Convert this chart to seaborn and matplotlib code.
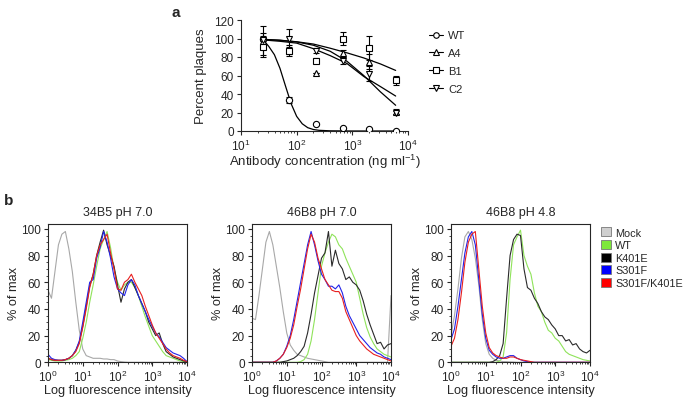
import numpy as np
import pandas as pd
import matplotlib
matplotlib.use("Agg")
import matplotlib.pyplot as plt
from matplotlib.lines import Line2D
from matplotlib.patches import Patch
from matplotlib.ticker import LogLocator, MultipleLocator, NullFormatter
import seaborn as sns

# ---- panel a: plaque reduction ----
conc = [24.7, 74, 222, 667, 2000, 6000]
strains = ["WT", "A4", "B1", "C2"]
markers = {"WT": "o", "A4": "^", "B1": "s", "C2": "v"}
plaques = {
    "WT": [100, 33.5, 7.5, 3.5, 2.5, 0.5],
    "A4": [97, 88, 63, 84, 75, 21],
    "B1": [91, 86, 76, 100, 90, 55],
    "C2": [98, 100, 87, 76, 62, 20],
}
plaque_err = {
    "WT": [3, 3, 0, 0, 0, 0],
    "A4": [17, 5, 0, 4, 8, 3],
    "B1": [9, 5, 3, 7, 13, 5],
    "C2": [8, 10, 3, 4, 8, 2],
}
# fitted curves
fit_conc_wt = [24.7, 31.6, 39.8, 50.1, 63.1, 79.4, 100, 126, 158, 200, 251, 398, 1000, 6000]
fit_wt = [99, 91.4, 82.5, 67.8, 48.5, 29.6, 15.8, 7.8, 3.6, 1.6, 0.75, 0.2, 0, 0]
fit_conc = [24.7, 50, 100, 200, 400, 800, 1600, 3200, 6000]
fit_curves = {
    "A4": [98.5, 97, 95, 89, 81.5, 73, 59, 48, 37.8],
    "B1": [99, 98, 96.5, 94, 89.5, 84.5, 79, 72.5, 65.5],
    "C2": [99.1, 98.2, 96.3, 92.7, 86.2, 75.4, 60, 42.3, 27.8],
}

# ---- panel b: flow cytometry histograms (% of max per log-channel) ----
samples = ["Mock", "WT", "K401E", "S301F", "S301F/K401E"]
colors = ["#a8a8a8", "#8fe35a", "#2a2a2a", "#2323e8", "#e82020"]
legend_colors = ["#cfcfcf", "#7ee83a", "#000000", "#0000ff", "#ff0000"]
titles = ["34B5 pH 7.0", "46B8 pH 7.0", "46B8 pH 4.8"]
log_channel = np.round(np.arange(0, 4.05, 0.1), 1)

hist_34b5_70 = {
    "Mock": [54, 48, 68, 88, 96, 98, 85, 68, 45, 24, 10, 5, 4, 3, 3, 3, 2.5, 2.5, 2, 2, 1,
             0.5, 0.2, 0, 0, 0, 0, 0, 0, 0, 0, 0, 0, 0, 0, 0, 0, 0, 0, 0, 0],
    "WT": [2, 1.5, 1, 1, 1, 1.5, 2, 3, 5, 8, 18, 30, 45, 58, 72, 85, 92, 98, 86, 70, 60,
           54, 58, 60, 60, 56, 50, 42, 34, 27, 20, 16, 12, 8, 5, 4, 3, 2, 1, 0.5, 0],
    "K401E": [3, 2, 1.5, 1.5, 1.5, 2, 3, 5, 9, 15, 27, 42, 57, 66, 80, 90, 99, 88, 80, 72, 58,
              45, 55, 60, 62, 56, 50, 44, 38, 30, 25, 20, 22, 14, 8, 6, 4, 3, 2, 1, 0.5],
    "S301F": [6, 3, 2, 1.5, 1.5, 2, 3, 5, 9, 16, 30, 45, 60, 62, 78, 86, 98, 90, 78, 64, 55,
              52, 50, 58, 62, 58, 50, 44, 38, 32, 27, 22, 19, 15, 11, 9, 7, 6, 5, 3, 0.5],
    "S301F/K401E": [3, 2, 1.5, 1.5, 1.5, 2, 3, 5, 8, 14, 26, 40, 56, 66, 80, 88, 92, 96, 82, 70, 55,
                    54, 60, 62, 66, 60, 55, 50, 42, 35, 28, 22, 18, 14, 10, 7, 5, 4, 3, 1.5, 0.5],
}
hist_46b8_70 = {
    "Mock": [33, 32, 50, 70, 90, 98, 88, 72, 56, 38, 22, 13, 9, 6, 5, 4, 3, 2.5, 2, 1.5, 1,
             0.5, 0, 0, 0, 0, 0, 0, 0, 0, 0, 0, 0, 0, 0, 0, 0, 0, 0, 0, 50],
    "WT": [0, 0, 0, 0, 0, 0, 0, 0, 0, 0, 0, 0, 0, 0, 0.5, 2, 6, 16, 32, 52, 72,
           82, 90, 96, 94, 88, 85, 78, 72, 66, 60, 48, 36, 26, 19, 14, 10, 8, 6, 5, 4],
    "K401E": [0, 0, 0, 0, 0, 0, 0, 0, 0, 0.5, 1, 2, 3, 5, 8, 12, 22, 36, 52, 65, 78,
              82, 98, 72, 84, 74, 70, 62, 64, 60, 58, 54, 46, 36, 28, 21, 14, 15, 10, 13, 14],
    "S301F": [0, 0, 0, 0, 0, 0, 0, 1, 3, 6, 12, 20, 32, 46, 60, 74, 88, 98, 88, 76, 66,
              62, 57, 57, 55, 58, 52, 42, 35, 30, 25, 20, 17, 14, 11, 9, 7, 6, 4, 3, 2],
    "S301F/K401E": [0, 0, 0, 0, 0, 0, 0, 1, 3, 6, 11, 18, 28, 42, 55, 70, 85, 96, 90, 78, 70,
                    62, 58, 54, 53, 53, 48, 38, 32, 26, 20, 16, 13, 10, 8, 6, 5, 4, 3, 2, 1],
}
hist_46b8_48 = {
    "Mock": [20, 35, 55, 78, 94, 98, 92, 78, 58, 32, 14, 6, 3, 1.5, 1, 0.5, 0.5, 0.3, 0.2, 0, 0,
             0, 0, 0, 0, 0, 0, 0, 0, 0, 0, 0, 0, 0, 0, 0, 0, 0, 0, 0, 0],
    "WT": [0, 0, 0, 0, 0, 0, 0, 0, 0, 0, 0, 0, 0, 0, 1, 4, 22, 62, 88, 94, 99,
           80, 72, 66, 52, 42, 38, 30, 24, 22, 18, 16, 12, 8, 6, 5, 4, 3, 2, 1.5, 1],
    "K401E": [0, 0, 0, 0, 0, 0, 0, 0, 0, 0, 0, 0, 0.5, 2, 5, 14, 48, 80, 92, 96, 95,
              70, 56, 54, 48, 44, 38, 34, 32, 28, 25, 20, 20, 16, 17, 13, 14, 10, 8, 7, 9],
    "S301F": [17, 25, 42, 62, 82, 94, 98, 88, 62, 36, 18, 9, 6, 4, 3, 3, 4, 5, 5, 3, 2,
              1, 0.5, 0, 0, 0, 0, 0, 0, 0, 0, 0, 0, 0, 0, 0, 0, 0, 0, 0, 0],
    "S301F/K401E": [12, 18, 32, 52, 75, 90, 96, 98, 70, 42, 22, 11, 7, 5, 4, 3, 3, 4, 4, 3, 2,
                    1.5, 1, 0.5, 0, 0, 0, 0, 0, 0, 0, 0, 0, 0, 0, 0, 0, 0, 0, 0, 0],
}
histograms = [hist_34b5_70, hist_46b8_70, hist_46b8_48]

sns.set_style("ticks")
plt.rcParams["font.family"] = ["Liberation Sans", "DejaVu Sans"]
plt.rcParams["mathtext.fontset"] = "custom"
plt.rcParams["mathtext.rm"] = "Liberation Sans"
plt.rcParams["mathtext.it"] = "Liberation Sans:italic"
plt.rcParams["axes.linewidth"] = 0.8
plt.rcParams["xtick.major.width"] = 0.8
plt.rcParams["ytick.major.width"] = 0.8
plt.rcParams["xtick.major.size"] = 3
plt.rcParams["ytick.major.size"] = 3
plt.rcParams["xtick.minor.size"] = 1.5
plt.rcParams["ytick.minor.size"] = 1.5
plt.rcParams["xtick.labelsize"] = 8.5
plt.rcParams["ytick.labelsize"] = 8.5
plt.rcParams["xtick.major.pad"] = 2
plt.rcParams["ytick.major.pad"] = 2

W, H = 685, 402
fig = plt.figure(figsize=(W / 100, H / 100), dpi=100)

# ---------- panel a ----------
ax = fig.add_axes([241 / W, 1 - 132 / H, 167 / W, 111 / H])
fit_rows = [{"conc": c, "pct": v, "strain": "WT"} for c, v in zip(fit_conc_wt, fit_wt)]
for s, vals in fit_curves.items():
    fit_rows += [{"conc": c, "pct": v, "strain": s} for c, v in zip(fit_conc, vals)]
fit_df = pd.DataFrame(fit_rows)
sns.lineplot(data=fit_df, x="conc", y="pct", units="strain", estimator=None,
             color="black", lw=0.9, ax=ax, legend=False)
for s in strains:
    ax.errorbar(conc, plaques[s], yerr=plaque_err[s], fmt=markers[s], ms=4.5,
                mfc="white", mec="black", mew=0.8, ecolor="black", elinewidth=0.8,
                capsize=2.5, capthick=0.8, zorder=3)
ax.set_xscale("log")
ax.set_xlim(10, 1e4)
ax.set_ylim(0, 120)
ax.yaxis.set_major_locator(MultipleLocator(20))
ax.xaxis.set_major_locator(LogLocator(base=10, numticks=10))
ax.xaxis.set_minor_locator(LogLocator(base=10, subs=np.arange(2, 10), numticks=10))
ax.xaxis.set_minor_formatter(NullFormatter())
sns.despine(ax=ax)
ax.set_xlabel("Antibody concentration (ng ml$^{-1}$)", fontsize=9.5, labelpad=-1)
ax.set_ylabel("Percent plaques", fontsize=9.5, labelpad=5)

handles = [Line2D([], [], color="black", lw=0.8, marker=markers[s], ms=4, mfc="white",
                  mec="black", mew=0.8) for s in strains]
fig.legend(handles, strains, loc="upper left", bbox_to_anchor=(425 / W, 1 - 27 / H),
           frameon=False, fontsize=8, handlelength=1.2, handletextpad=0.5,
           labelspacing=0.7, borderaxespad=0)
fig.text(172 / W, 1 - 13 / H, "a", fontsize=11, fontweight="bold", va="center")

# ---------- panel b ----------
lefts = [48, 252, 451]
for i, (left, title, hist) in enumerate(zip(lefts, titles, histograms)):
    axb = fig.add_axes([left / W, 1 - 363.3 / H, 139 / W, 138.8 / H])
    rows = []
    for s in samples:
        rows += [{"intensity": 10 ** e, "pct": v, "sample": s}
                 for e, v in zip(log_channel, hist[s])]
    df = pd.DataFrame(rows)
    sns.lineplot(data=df, x="intensity", y="pct", hue="sample", hue_order=samples,
                 palette=colors, estimator=None, sort=False, lw=0.8, ax=axb, legend=False)
    axb.set_xscale("log")
    axb.set_xlim(1, 1e4)
    axb.set_ylim(0, 104)
    axb.yaxis.set_major_locator(MultipleLocator(20))
    axb.yaxis.set_minor_locator(MultipleLocator(5))
    axb.xaxis.set_major_locator(LogLocator(base=10, numticks=10))
    axb.xaxis.set_minor_locator(LogLocator(base=10, subs=np.arange(2, 10), numticks=10))
    axb.xaxis.set_minor_formatter(NullFormatter())
    axb.set_title(title, fontsize=9, pad=6)
    axb.set_xlabel("Log fluorescence intensity", fontsize=9.2, labelpad=0)
    axb.set_ylabel("% of max", fontsize=9.2, labelpad=1)

leg_handles = [Patch(facecolor=c, edgecolor="#777777", lw=0.6) for c in legend_colors]
fig.legend(leg_handles, samples, loc="upper left", bbox_to_anchor=(597 / W, 1 - 224 / H),
           frameon=False, fontsize=7.8, handlelength=0.9, handleheight=0.9,
           handletextpad=0.4, labelspacing=0.22, borderaxespad=0)
fig.text(4 / W, 1 - 201 / H, "b", fontsize=11, fontweight="bold", va="center")

fig.savefig("out.png", dpi=100)
